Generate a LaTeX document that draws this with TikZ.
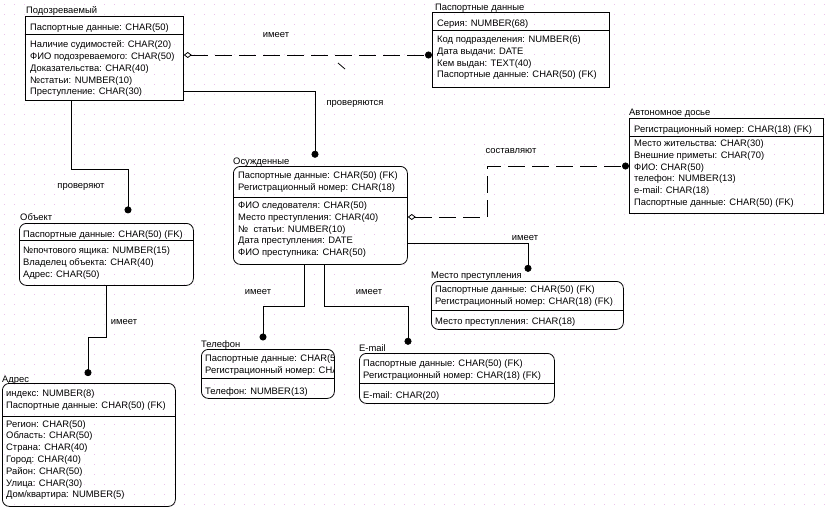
\documentclass[tikz,border=0pt]{standalone}
\usepackage{fontspec}
\setmainfont{Liberation Sans}
\usetikzlibrary{arrows.meta}

\definecolor{gridpink}{RGB}{238,190,238}

\tikzset{
    ent/.style={draw, line width=0.8pt, inner sep=0pt, anchor=north west},
    dep/.style={ent, rounded corners=7pt},
    ttl/.style={anchor=base west, inner sep=0pt, yshift=-1pt},
    fld/.style={anchor=north west, yshift=7pt, inner sep=0pt, align=left,
        execute at begin node={\rule{0pt}{9pt}}},
    lbl/.style={inner sep=0pt},
    rel/.style={line width=0.8pt, -{Circle[length=7pt]}},
    idrel/.style={line width=0.8pt, dash pattern=on 17pt off 7pt,
        {Diamond[open,length=8pt,width=6pt]}-{Circle[length=7pt]}},
}

\begin{document}
\begin{tikzpicture}[x=1pt, y=-1pt, font=\fontsize{9.4}{11.8}\selectfont]
    \useasboundingbox (0,0) rectangle (829,511);
    % background dots
    \foreach \gx in {4,14,...,824}
        \foreach \gy in {4,14,...,504}
            \fill[gridpink] (\gx,\gy) rectangle ++(1,1);

    % Подозреваемый
    \node[ttl] (podT) at (26,12.5) {Подозреваемый};
    \node[ent, minimum width=158pt, minimum height=84pt] (pod) at (25,16) {};
    \draw[line width=0.8pt] (pod.west |- 0,34) -- (pod.east |- 0,34);
    \node[fld] (podK) at (30,28.5) {Паспортные данные: CHAR(50)};
    \node[fld] (podA) at (30,47.5) {Наличие судимостей: CHAR(20)\\ФИО подозреваемого: CHAR(50)\\Доказательства: CHAR(40)\\№статьи: NUMBER(10)\\Преступление: CHAR(30)};

    % Паспортные данные
    \node[ttl] (pasT) at (435,9.5) {Паспортные данные};
    \node[ent, minimum width=177pt, minimum height=75pt] (pas) at (432,12) {};
    \draw[line width=0.8pt] (pas.west |- 0,30) -- (pas.east |- 0,30);
    \node[fld] (pasK) at (437,24.5) {Серия: NUMBER(68)};
    \node[fld] (pasA) at (437,42.5) {Код подразделения: NUMBER(6)\\Дата выдачи: DATE\\Кем выдан: TEXT(40)\\Паспортные данные: CHAR(50) (FK)};

    % Автономное досье
    \node[ttl] (avtT) at (629,114.5) {Автономное досье};
    \node[ent, minimum width=194pt, minimum height=95pt] (avt) at (629,118) {};
    \draw[line width=0.8pt] (avt.west |- 0,136) -- (avt.east |- 0,136);
    \node[fld] (avtK) at (634,130.5) {Регистрационный номер: CHAR(18) (FK)};
    \node[fld] (avtA) at (634,146.5) {Место жительства: CHAR(30)\\Внешние приметы: CHAR(70)\\ФИО: CHAR(50)\\телефон: NUMBER(13)\\e-mail: CHAR(18)\\Паспортные данные: CHAR(50) (FK)};

    % Осужденные
    \node[ttl] (osuT) at (233,163.5) {Осужденные};
    \node[dep, minimum width=174pt, minimum height=98pt] (osu) at (233,166) {};
    \draw[line width=0.8pt] (osu.west |- 0,197) -- (osu.east |- 0,197);
    \node[fld] (osuK) at (238,178.5) {Паспортные данные: CHAR(50) (FK)\\Регистрационный номер: CHAR(18)};
    \node[fld] (osuA) at (238,208.5) {ФИО следователя: CHAR(50)\\Место преступления: CHAR(40)\\№\ \ статьи: NUMBER(10)\\Дата преступления: DATE\\ФИО преступника: CHAR(50)};

    % Объект
    \node[ttl] (objT) at (20,219.5) {Объект};
    \node[dep, minimum width=174pt, minimum height=62pt] (obj) at (19,223) {};
    \draw[line width=0.8pt] (obj.west |- 0,240) -- (obj.east |- 0,240);
    \node[fld] (objK) at (23,235) {Паспортные данные: CHAR(50) (FK)};
    \node[fld] (objA) at (23,253.5) {№почтового ящика: NUMBER(15)\\Владелец объекта: CHAR(40)\\Адрес: CHAR(50)};

    % Место преступления
    \node[ttl] (mesT) at (431,277.5) {Место преступления};
    \node[dep, minimum width=192pt, minimum height=48pt] (mes) at (431,281) {};
    \draw[line width=0.8pt] (mes.west |- 0,310) -- (mes.east |- 0,310);
    \node[fld] (mesK) at (435,292.5) {Паспортные данные: CHAR(50) (FK)\\Регистрационный номер: CHAR(18) (FK)};
    \node[fld] (mesA) at (435,322.5) {Место преступления: CHAR(18)};

    % Телефон
    \node[ttl] (telT) at (201,346.5) {Телефон};
    \node[dep, minimum width=133pt, minimum height=49pt] (tel) at (201,349) {};
    \draw[line width=0.8pt] (tel.west |- 0,378) -- (tel.east |- 0,378);
    \begin{scope}
        \clip (201,349) rectangle (333,398);
        \node[fld] (telK) at (205,361.8) {Паспортные данные: CHAR(50) (FK)\\Регистрационный номер: CHAR(18) (FK)};
    \end{scope}
    \node[fld] (telA) at (205,392.5) {Телефон: NUMBER(13)};

    % E-mail
    \node[ttl] (emlT) at (359,350.8) {E-mail};
    \node[dep, minimum width=195pt, minimum height=50pt] (eml) at (359,353) {};
    \draw[line width=0.8pt] (eml.west |- 0,383) -- (eml.east |- 0,383);
    \node[fld] (emlK) at (363,366.8) {Паспортные данные: CHAR(50) (FK)\\Регистрационный номер: CHAR(18) (FK)};
    \node[fld] (emlA) at (363,396) {E-mail: CHAR(20)};

    % Адрес
    \node[ttl] (adrT) at (2,381.8) {Адрес};
    \node[dep, minimum width=173pt, minimum height=123pt] (adr) at (2,383) {};
    \draw[line width=0.8pt] (adr.west |- 0,416) -- (adr.east |- 0,416);
    \node[fld] (adrK) at (6,396.8) {индекс: NUMBER(8)\\Паспортные данные: CHAR(50) (FK)};
    \node[fld] (adrA) at (6,427) {Регион: CHAR(50)\\Область: CHAR(50)\\Страна: CHAR(40)\\Город: CHAR(40)\\Район: CHAR(50)\\Улица: CHAR(30)\\Дом/квартира: NUMBER(5)};

    % Relationships
    \draw[idrel] (pod.east |- 0,55) -- (pas.west |- 0,55);
    \draw[line width=0.8pt] (338,63) -- (345,69);
    \node[lbl] (l1) at (276,35) {имеет};

    \draw[rel] (pod.east |- 0,91) -| (315,0 |- osuT.north);
    \node[lbl] (l2) at (355,104) {проверяются};

    \draw[rel] (71,0 |- pod.south) |- (128,169) -- (128,0 |- objT.north);
    \node[lbl] (l3) at (81,187) {проверяют};

    \draw[idrel] (osu.east |- 0,217) -| (487,166) -- (avt.west |- 0,166);
    \node[lbl] (l4) at (511,151) {составляют};

    \draw[rel] (osu.east |- 0,243) -| (528,0 |- mesT.north);
    \node[lbl] (l5) at (525,238) {имеет};

    \draw[rel] (304,0 |- osu.south) |- (263,306) -- (263,0 |- telT.north);
    \node[lbl] (l6) at (258,292) {имеет};

    \draw[rel] (324,0 |- osu.south) |- (408,306) -- (408,0 |- emlT.north);
    \node[lbl] (l7) at (369,292) {имеет};

    \draw[rel] (106,0 |- obj.south) |- (88,337) -- (88,0 |- adrT.north);
    \node[lbl] (l8) at (124,322) {имеет};
\end{tikzpicture}
\end{document}
